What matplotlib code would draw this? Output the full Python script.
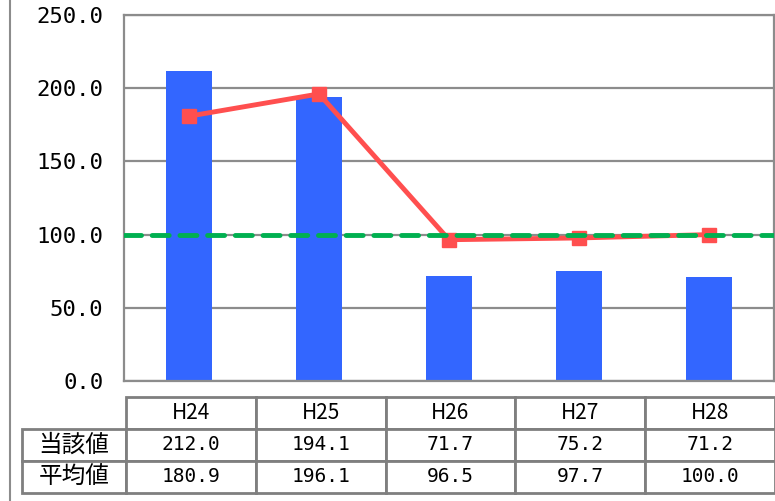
import matplotlib
matplotlib.use("Agg")
import matplotlib.pyplot as plt
from matplotlib.lines import Line2D

categories = ["H24", "H25", "H26", "H27", "H28"]
current_values = [212.0, 194.1, 71.7, 75.2, 71.2]
average_values = [180.9, 196.1, 96.5, 97.7, 100.0]
row_labels = ["当該値", "平均値"]
yticks = [0, 50, 100, 150, 200, 250]
baseline = 100.0

W, H = 775, 501
fig = plt.figure(figsize=(W / 100, H / 100), dpi=100)
L, R, T, B = 124, 774, 15, 381
ax = fig.add_axes([L / W, (H - B) / H, (R - L) / W, (B - T) / H])

grid_c = "#8c8c8c"
x = list(range(len(categories)))
ax.bar(x, current_values, width=0.36, color="#3366FF", zorder=2)
ax.plot(x, average_values, color="#FF4F4F", lw=3.5, marker="s", ms=10,
        zorder=3, solid_joinstyle="miter")
ax.axhline(baseline, color="#00B050", lw=3.5, ls=(0, (3.5, 2.2)), zorder=4,
           dash_capstyle="round")

ax.set_xlim(-0.5, len(categories) - 0.5)
ax.set_ylim(0, 250)
ax.set_yticks(yticks)
ax.set_yticklabels([f"{v:.1f}" for v in yticks], fontfamily="DejaVu Sans Mono",
                   fontsize=16)
ax.tick_params(axis="y", length=0, pad=15)
ax.set_xticks([])
ax.yaxis.grid(True, color=grid_c, lw=1.6, zorder=0)
ax.set_axisbelow(True)
for s in ax.spines.values():
    s.set_color(grid_c)
    s.set_linewidth(1.6)

# table
cell_text = [[""] + categories,
             [row_labels[0]] + [f"{v:.1f}" for v in current_values],
             [row_labels[1]] + [f"{v:.1f}" for v in average_values]]
tx0, tx1, ty0, ty1 = 22, 775, 397, 493
bbox = [(tx0 - L) / (R - L), (B - ty1) / (B - T),
        (tx1 - tx0) / (R - L), (ty1 - ty0) / (B - T)]
col_w = [104] + [130] * 5
tbl = ax.table(cellText=cell_text, colWidths=[c / sum(col_w) for c in col_w],
               cellLoc="center", bbox=bbox)
tbl.auto_set_font_size(False)
for (r, c), cell in tbl.get_celld().items():
    cell.set_edgecolor("#7f7f7f")
    cell.set_linewidth(2)
    t = cell.get_text()
    if c == 0:
        t.set_fontfamily(["Noto Sans CJK JP", "DejaVu Sans"])
        t.set_fontsize(17)
    elif r == 0:
        t.set_fontfamily("Noto Sans CJK JP")
        t.set_fontsize(15)
    else:
        t.set_fontfamily("DejaVu Sans Mono")
        t.set_fontsize(14)
    if r == 0 and c == 0:
        cell.set_visible(False)

fig.add_artist(Line2D([9.5 / W, 9.5 / W], [0, 1], color=grid_c, lw=1.5))

fig.savefig("out.png", dpi=100)
